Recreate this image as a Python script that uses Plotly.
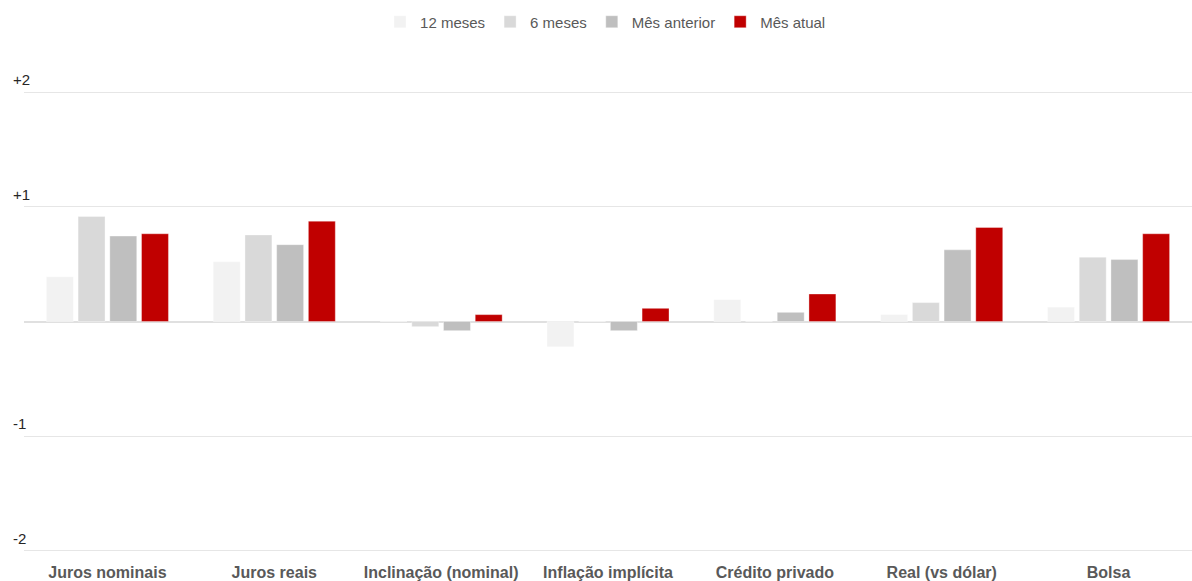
import plotly.graph_objects as go

# Categories and series values (standardised readings)
categorias = ["Juros nominais", "Juros reais", "Inclinação (nominal)", "Inflação implícita",
              "Crédito privado", "Real (vs dólar)", "Bolsa"]
meses_12 = [0.39, 0.52, 0.0, -0.22, 0.19, 0.06, 0.125]
meses_6 = [0.915, 0.755, -0.045, 0.0, 0.0, 0.165, 0.56]
mes_anterior = [0.745, 0.67, -0.08, -0.08, 0.08, 0.625, 0.54]
mes_atual = [0.765, 0.875, 0.06, 0.115, 0.24, 0.82, 0.765]

y_ticks = [2, 1, 0, -1, -2]
y_tick_labels = ["+2", "+1", "", "-1", "-2"]

series = [
    ("12 meses", meses_12, "#F2F2F2"),
    ("6 meses", meses_6, "#D9D9D9"),
    ("Mês anterior", mes_anterior, "#BFBFBF"),
    ("Mês atual", mes_atual, "#C00000"),
]

fig = go.Figure()
for nome, valores, cor in series:
    fig.add_trace(go.Bar(
        name=nome, x=categorias, y=valores,
        marker=dict(color=cor, line=dict(color="rgba(255,255,255,0.35)", width=1)),
    ))

# Axis labels sit above their gridlines, at the left edge
for v, txt in zip(y_ticks, y_tick_labels):
    if txt:
        fig.add_annotation(
            x=0, xref="paper", xanchor="left", xshift=-13,
            y=v, yref="y", yanchor="bottom", yshift=2,
            text=txt, showarrow=False,
            font=dict(size=15, color="#262626"),
        )

fig.update_layout(
    width=1192, height=581,
    margin=dict(l=24, r=0, t=91, b=29),
    paper_bgcolor="white", plot_bgcolor="white",
    font=dict(family="Liberation Sans, Arial, sans-serif", color="#595959"),
    barmode="group", bargap=0.24, bargroupgap=0.15,
    legend=dict(
        orientation="h", xref="container", x=0.508, xanchor="center",
        yref="container", y=1 - 22 / 581, yanchor="middle",
        font=dict(size=15, color="#595959"), itemwidth=30, traceorder="normal",
    ),
    showlegend=True,
)
fig.update_xaxes(
    showgrid=False, showline=False, zeroline=False, ticks="",
    tickfont=dict(size=16, color="#595959", family="Liberation Sans, Arial, sans-serif", weight="bold"),
    ticklabelstandoff=9,
)
fig.update_yaxes(
    range=[-2.01, 2.01], tickvals=y_ticks, showticklabels=False,
    showgrid=True, gridcolor="#E6E6E6", gridwidth=1,
    zeroline=True, zerolinecolor="#E0E0E0", zerolinewidth=2,
    showline=False,
)

fig.write_html("out.html")
